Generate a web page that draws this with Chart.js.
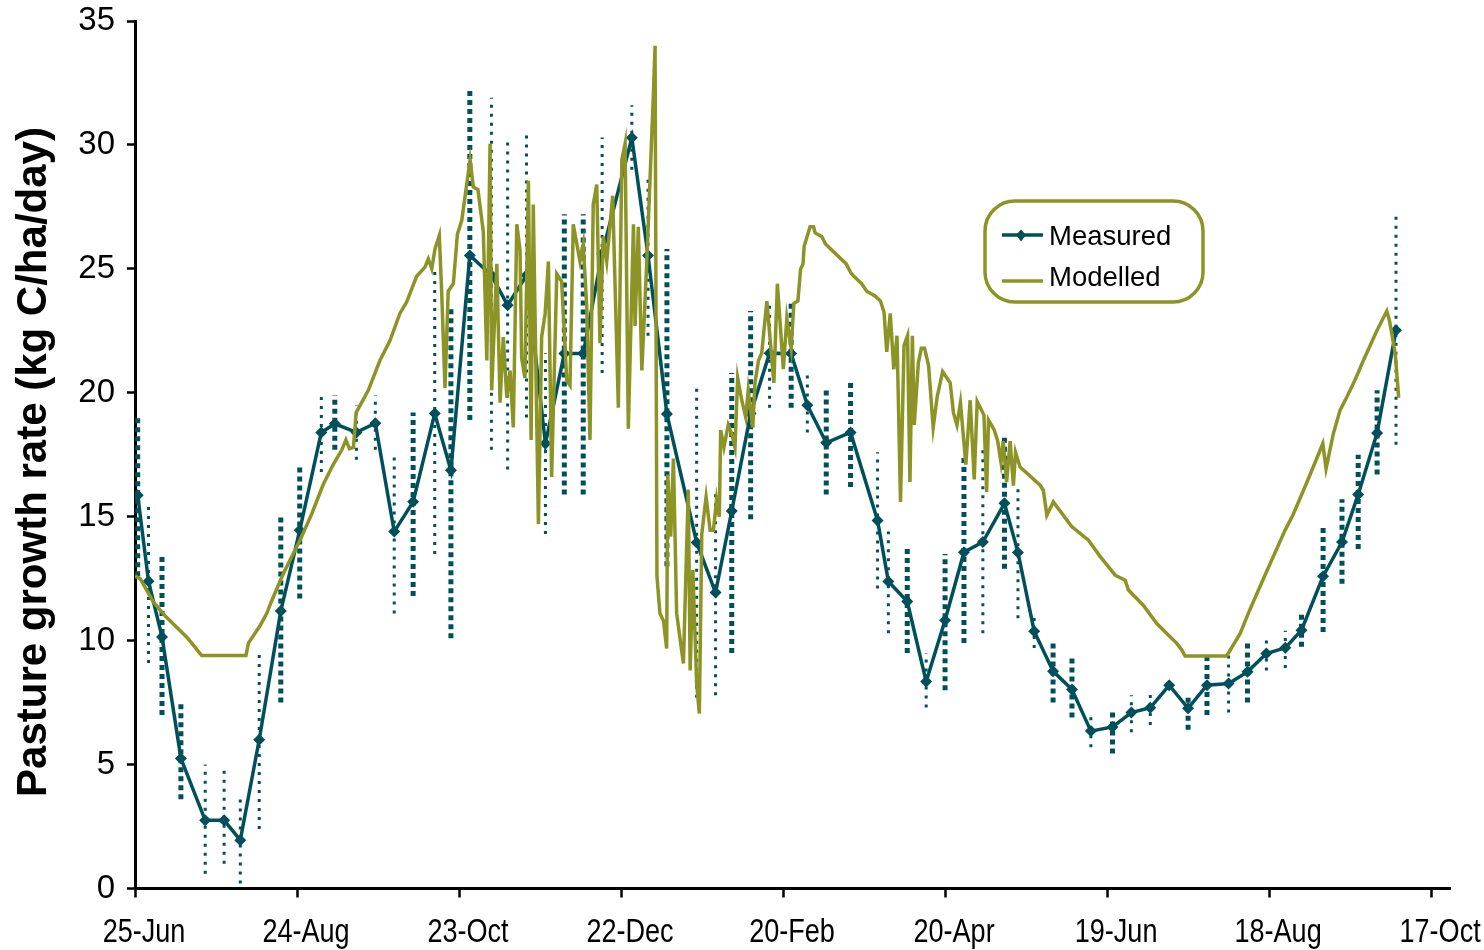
<!DOCTYPE html>
<html>
<head>
<meta charset="utf-8">
<script src="https://cdn.jsdelivr.net/npm/chart.js@4.4.1/dist/chart.umd.min.js"></script>
<style>
  html, body { margin: 0; padding: 0; background: #ffffff; }
  #wrap { width: 1484px; height: 950px; position: relative; }
</style>
</head>
<body>
<div id="wrap"><canvas id="growth" width="1484" height="950"></canvas></div>
<script>
// Days counted from 25-Jun; axis labelled every 60 days
const tickLabels = ['25-Jun', '24-Aug', '23-Oct', '22-Dec', '20-Feb', '20-Apr', '19-Jun', '18-Aug', '17-Oct'];
const tickStepDays = 60;

// Measured pasture growth rate (kg C/ha/day) with error range
const measuredDay = [1, 5, 10, 17, 26, 33, 39, 46, 54, 61, 69, 74, 82, 89, 96, 103, 111, 117, 124, 132,
  138, 145, 152, 159, 166, 173, 184, 190, 197, 208, 215, 221, 228, 235, 243, 249, 256, 265, 275, 279,
  286, 293, 300, 307, 314, 322, 327, 333, 340, 347, 354, 362, 369, 376, 383, 390, 397, 405, 412, 419,
  426, 432, 440, 447, 453, 460, 467];
const measuredRate = [15.87, 12.4, 10.15, 5.25, 2.75, 2.75, 1.95, 6.0, 11.2, 14.45, 18.4, 18.75, 18.4, 18.77, 14.4, 15.6, 19.16, 16.87, 25.54, 24.74,
  23.53, 24.74, 17.95, 21.58, 21.58, 25.61, 30.29, 25.54, 19.14, 13.96, 11.94, 15.23, 19.16, 21.6, 21.58, 19.5, 17.98, 18.4, 14.85, 12.39,
  11.58, 8.35, 10.82, 13.57, 13.98, 15.54, 13.56, 10.38, 8.77, 8.03, 6.35, 6.52, 7.1, 7.29, 8.2, 7.27, 8.2, 8.27, 8.74, 9.48,
  9.71, 10.42, 12.6, 13.98, 15.9, 18.38, 22.52];
const measuredLow = [12.6, 9.1, 7.0, 3.6, 0.6, 1.0, 0.2, 2.4, 7.5, 11.7, 16.8, 17.7, 17.3, 17.7, 11.1, 11.8, 13.5, 10.1, 18.9, 17.7,
  16.9, 19.0, 14.3, 15.9, 15.9, 20.8, 29.0, 22.3, 13.0, 7.7, 7.8, 9.5, 14.9, 19.4, 19.4, 18.4, 15.9, 16.2, 12.1, 10.3,
  9.5, 7.3, 8.0, 9.9, 10.3, 12.9, 10.9, 9.7, 7.5, 6.9, 5.7, 5.45, 6.3, 6.6, 8.2, 6.4, 7.0, 7.1, 7.5, 8.8,
  8.9, 9.75, 10.35, 12.3, 13.7, 16.7, 17.9];
const measuredHigh = [19.0, 15.5, 13.4, 7.5, 5.0, 4.85, 3.65, 9.65, 15.0, 17.1, 19.9, 19.9, 19.5, 19.9, 17.6, 19.2, 24.9, 23.45, 32.3, 31.9,
  30.3, 30.45, 21.6, 27.2, 27.2, 30.3, 31.6, 28.8, 25.8, 20.2, 16.1, 20.8, 23.3, 23.7, 23.7, 20.7, 20.2, 20.5, 17.6, 14.4,
  13.8, 9.5, 13.5, 17.4, 17.7, 18.2, 16.2, 11.1, 10.0, 9.3, 7.0, 7.1, 7.8, 7.9, 8.2, 7.8, 9.35, 9.5, 9.9, 10.15,
  10.4, 11.1, 14.7, 15.7, 17.5, 20.1, 27.2];
// Sampling dates whose error range was drawn with the heavier dotted rule
const heavyRangeIndex = [0, 2, 3, 8, 9, 11, 15, 17, 18, 23, 24, 28, 31, 32, 34, 36, 37, 40, 42, 43, 45, 48, 49, 51, 55, 56, 58, 61, 62, 63, 64, 65];

// Modelled daily growth rate (kg C/ha/day)
const modelDay = [0, 1.9, 6.8, 11.1, 19.1, 21.0, 24.7, 41.1, 42.0, 46.3, 48.8, 50.6, 54.9, 61.1, 65.4, 69.7, 73.4, 76.6, 78.1, 79.4,
  80.9, 81.9, 86.4, 90.7, 94.4, 98.1, 100.6, 104.3, 107.4, 108.6, 109.9, 111.1, 112.7, 113.6, 114.8, 116.0, 117.9, 119.4, 121.0, 124.1,
  125.3, 127.0, 129.0, 130.3, 131.5, 132.1, 134.0, 135.2, 136.4, 137.7, 138.9, 140.1, 141.4, 142.6, 143.2, 144.4, 145.7, 146.7, 147.5, 149.4,
  150.6, 151.9, 153.1, 154.3, 156.2, 158.0, 159.9, 161.1, 162.3, 164.8, 166.0, 167.3, 168.5, 169.7, 171.0, 172.2, 173.4, 174.7, 176.9, 179.0,
  180.3, 181.5, 182.7, 184.6, 185.2, 186.4, 187.7, 189.5, 192.0, 192.6, 193.3, 194.4, 195.7, 196.9, 197.3, 198.4, 199.4, 200.6, 203.1, 204.9,
  205.6, 206.6, 208.0, 209.0, 209.9, 211.5, 213.0, 214.2, 215.4, 216.4, 216.9, 218.1, 219.7, 221.0, 222.2, 223.2, 224.7, 226.2, 227.1, 228.8,
  229.6, 230.9, 232.1, 234.0, 236.6, 237.9, 240.1, 241.4, 243.0, 244.0, 245.5, 246.5, 247.4, 247.8, 250.0, 251.3, 251.9, 254.4, 255.7, 263.4,
  265.3, 267.2, 269.1, 271.0, 274.2, 276.1, 277.4, 278.4, 279.7, 281.0, 282.2, 283.5, 284.8, 286.1, 287.0, 287.9, 288.6, 290.1, 291.2, 292.4,
  293.9, 295.6, 297.1, 299.1, 301.9, 303.1, 304.4, 305.7, 307.7, 309.3, 310.8, 311.9, 314.4, 315.4, 316.1, 318.2, 319.5, 320.7, 321.5, 322.8,
  324.1, 325.3, 326.1, 327.8, 335.2, 336.4, 337.7, 340.1, 346.9, 353.1, 357.4, 363.0, 366.7, 367.9, 373.4, 378.4, 385.8, 387.7, 388.9, 404.3,
  409.3, 412.3, 417.9, 421.6, 425.9, 428.8, 434.6, 439.9, 441.1, 443.8, 446.3, 448.8, 451.2, 453.1, 454.9, 457.4, 459.9, 463.6, 464.6, 466.7,
  468.0];
const modelRate = [12.6, 12.5, 11.56, 11.0, 10.15, 9.9, 9.4, 9.4, 9.9, 10.6, 11.1, 11.6, 12.7, 14.05, 15.1, 16.3, 17.1, 17.7, 18.1, 17.75,
  17.8, 19.2, 20.1, 21.3, 22.1, 23.2, 23.66, 24.7, 25.07, 25.4, 25.0, 25.8, 26.35, 24.0, 20.2, 24.1, 24.4, 26.4, 26.95, 29.4,
  28.3, 28.2, 26.5, 21.3, 30.05, 20.1, 25.2, 19.6, 22.25, 19.8, 20.9, 18.6, 26.8, 25.75, 21.4, 20.6, 28.55, 18.1, 27.6, 14.7,
  22.25, 23.2, 25.3, 16.6, 24.8, 24.5, 20.5, 20.3, 26.8, 25.3, 26.0, 23.45, 18.1, 27.6, 28.4, 22.0, 26.3, 25.3, 27.95, 19.4,
  29.4, 30.05, 18.55, 26.8, 22.7, 26.7, 20.9, 25.2, 32.1, 34.0, 12.6, 11.1, 10.8, 9.68, 16.7, 14.2, 17.35, 11.1, 9.08, 16.1,
  8.8, 12.85, 8.27, 7.06, 14.3, 15.8, 14.45, 14.45, 15.7, 15.0, 18.5, 17.8, 18.7, 18.35, 17.8, 20.6, 19.7, 19.0, 20.1, 18.6,
  20.4, 21.3, 21.6, 23.7, 20.4, 24.4, 20.95, 23.0, 21.8, 23.6, 23.7, 25.0, 25.2, 25.9, 26.7, 26.7, 26.45, 26.3, 26.0, 25.2,
  24.8, 24.6, 24.4, 24.1, 23.9, 23.7, 23.25, 21.65, 23.2, 20.95, 22.3, 15.6, 21.9, 22.3, 16.4, 22.3, 18.7, 21.2, 21.8, 21.8,
  21.1, 18.6, 19.85, 20.85, 20.4, 19.2, 18.7, 19.6, 17.1, 19.7, 16.5, 19.65, 19.1, 16.0, 18.9, 18.5, 18.05, 17.2, 18.05, 16.4,
  18.05, 16.25, 17.6, 17.0, 16.27, 16.07, 15.06, 15.6, 14.6, 14.05, 13.4, 12.64, 12.44, 12.04, 11.43, 10.69, 9.89, 9.62, 9.38, 9.38,
  10.29, 11.1, 12.5, 13.4, 14.45, 15.06, 16.54, 17.95, 16.94, 18.35, 19.3, 19.83, 20.37, 20.84, 21.3, 21.9, 22.5, 23.3, 22.9, 21.6,
  19.8];

const TEAL = '#00505C';
const OLIVE = '#8C9426';
const SANS = "'Liberation Sans', Arial, Helvetica, sans-serif";

// Build vertical range segments, separated by gaps
function rangeSegments(keep) {
  const pts = [];
  measuredDay.forEach((d, i) => {
    if (!keep(i)) return;
    pts.push({ x: d, y: measuredLow[i] }, { x: d, y: measuredHigh[i] }, { x: d, y: null });
  });
  return pts;
}
const heavy = new Set(heavyRangeIndex);

const measuredPoints = measuredDay.map((d, i) => ({ x: d, y: measuredRate[i] }));
const modelPoints = modelDay.map((d, i) => ({ x: d, y: modelRate[i] }));

// Date labels (condensed), axis title and boxed legend
const decorations = {
  id: 'decorations',
  afterDraw(chart) {
    const ctx = chart.ctx;
    const xs = chart.scales.x;
    ctx.save();
    ctx.fillStyle = '#000';

    // condensed date labels under the tick marks
    ctx.font = '33px ' + SANS;
    ctx.textAlign = 'center';
    ctx.textBaseline = 'alphabetic';
    tickLabels.forEach((lab, i) => {
      const px = xs.getPixelForValue(i * tickStepDays);
      ctx.save();
      ctx.translate(px + 9, 942);
      ctx.scale(0.82, 1);
      ctx.fillText(lab, 0, 0);
      ctx.restore();
    });

    // y-axis title
    ctx.save();
    ctx.translate(46, 462);
    ctx.rotate(-Math.PI / 2);
    ctx.font = 'bold 42px ' + SANS;
    ctx.textAlign = 'center';
    ctx.fillText('Pasture growth rate (kg C/ha/day)', 0, 0);
    ctx.restore();

    // legend frame
    ctx.lineWidth = 3.5;
    ctx.strokeStyle = OLIVE;
    ctx.beginPath();
    ctx.roundRect(985, 201, 218, 101, 30);
    ctx.stroke();

    // Measured entry
    ctx.lineWidth = 3.5;
    ctx.strokeStyle = TEAL;
    ctx.beginPath();
    ctx.moveTo(1002, 235); ctx.lineTo(1043, 235);
    ctx.stroke();
    ctx.fillStyle = TEAL;
    ctx.beginPath();
    ctx.moveTo(1021, 229.5); ctx.lineTo(1026, 235); ctx.lineTo(1021, 241.5); ctx.lineTo(1016, 235);
    ctx.closePath();
    ctx.fill();

    // Modelled entry
    ctx.strokeStyle = OLIVE;
    ctx.beginPath();
    ctx.moveTo(1002, 281); ctx.lineTo(1043, 281);
    ctx.stroke();

    ctx.fillStyle = '#000';
    ctx.font = '27.5px ' + SANS;
    ctx.textAlign = 'left';
    ctx.fillText('Measured', 1049, 245);
    ctx.fillText('Modelled', 1049, 286);
    ctx.restore();
  }
};

new Chart(document.getElementById('growth'), {
  type: 'line',
  data: {
    datasets: [
      {
        label: 'Modelled',
        data: modelPoints,
        borderColor: OLIVE,
        borderWidth: 3.5,
        pointRadius: 0,
        tension: 0,
        order: 0
      },
      {
        label: 'Measured',
        data: measuredPoints,
        borderColor: TEAL,
        backgroundColor: TEAL,
        borderWidth: 3.5,
        pointStyle: 'rectRot',
        pointRadius: 6,
        pointBorderWidth: 0,
        tension: 0,
        order: 1
      },
      {
        label: 'Measured range (heavy)',
        data: rangeSegments(i => heavy.has(i)),
        borderColor: TEAL,
        borderWidth: 5,
        borderDash: [5, 4],
        borderCapStyle: 'butt',
        pointRadius: 0,
        spanGaps: false,
        order: 2
      },
      {
        label: 'Measured range',
        data: rangeSegments(i => !heavy.has(i)),
        borderColor: TEAL,
        borderWidth: 3,
        borderDash: [3, 6],
        borderCapStyle: 'butt',
        pointRadius: 0,
        spanGaps: false,
        order: 2
      }
    ]
  },
  options: {
    responsive: false,
    animation: false,
    devicePixelRatio: 1,
    layout: { padding: { top: 21, right: 34, left: 0, bottom: 0 } },
    plugins: {
      legend: { display: false },
      tooltip: { enabled: false }
    },
    scales: {
      x: {
        type: 'linear',
        min: 0,
        max: 487,
        afterBuildTicks(scale) {
          scale.ticks = tickLabels.map((_, i) => ({ value: i * tickStepDays }));
        },
        afterFit(scale) {
          scale.height = 61.5;
          scale.paddingLeft = 0;
          scale.paddingRight = 0;
        },
        ticks: { display: false },
        grid: {
          display: true,
          drawOnChartArea: false,
          drawTicks: true,
          tickLength: 9,
          tickWidth: 2.5,
          tickColor: '#000'
        },
        border: { display: true, color: '#000', width: 3 }
      },
      y: {
        min: 0,
        max: 35,
        afterFit(scale) {
          scale.width = 135;
          scale.paddingTop = 0;
          scale.paddingBottom = 0;
        },
        ticks: {
          stepSize: 5,
          color: '#000',
          font: { family: SANS, size: 33 },
          padding: 12
        },
        grid: {
          display: true,
          drawOnChartArea: false,
          drawTicks: true,
          tickLength: 8,
          tickWidth: 2.5,
          tickColor: '#000'
        },
        border: { display: true, color: '#000', width: 3 }
      }
    }
  },
  plugins: [decorations]
});
</script>
</body>
</html>
